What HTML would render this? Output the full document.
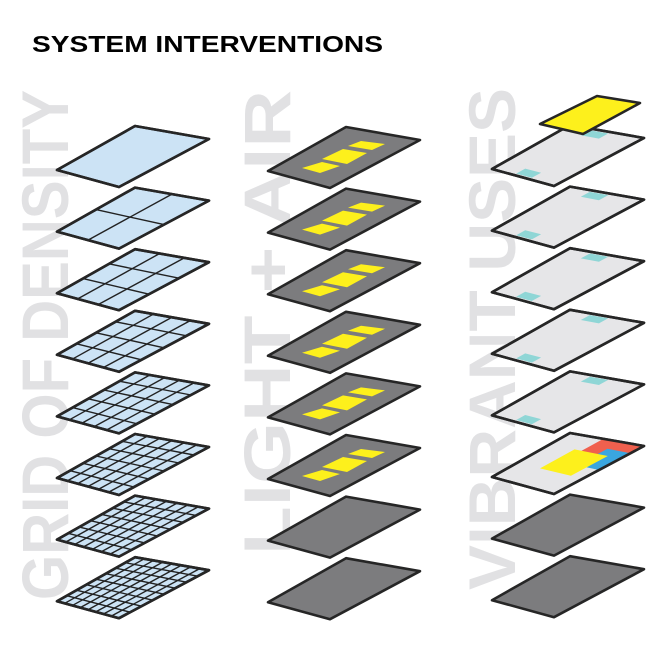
<!DOCTYPE html>
<html><head><meta charset="utf-8"><style>
html,body{margin:0;padding:0;background:#fff;}
svg{display:block;}
</style></head><body>
<svg id="s" width="670" height="670" viewBox="0 0 670 670" xmlns="http://www.w3.org/2000/svg">
<rect width="670" height="670" fill="#fff"/>
<text x="32" y="52" font-family="Liberation Sans, sans-serif" font-weight="bold" font-size="23" textLength="351" lengthAdjust="spacingAndGlyphs" fill="#000">SYSTEM INTERVENTIONS</text>
<g font-family="Liberation Sans, sans-serif" font-weight="bold" font-size="66" fill="#e1e1e3">
<text transform="translate(68,600) rotate(-90)" textLength="510" lengthAdjust="spacingAndGlyphs">GRID OF DENSITY</text>
<text transform="translate(290,555) rotate(-90)" textLength="465" lengthAdjust="spacingAndGlyphs">LIGHT + AIR</text>
<text transform="translate(515,590) rotate(-90)" textLength="502" lengthAdjust="spacingAndGlyphs">VIBRANT USES</text>
</g>
<g id="g"></g>
</svg>
<script>
var g=document.getElementById('g');var NS='http://www.w3.org/2000/svg';
var base={L:[57,170],T:[135,126],R:[209,139],B:[119,187]};
function P(dx,dy,s,t){
 var L=base.L,T=base.T,R=base.R,B=base.B;
 var x=(1-s)*(1-t)*L[0]+s*(1-t)*T[0]+s*t*R[0]+(1-s)*t*B[0];
 var y=(1-s)*(1-t)*L[1]+s*(1-t)*T[1]+s*t*R[1]+(1-s)*t*B[1];
 return [x+dx,y+dy];}
function poly(pts,fill,stroke,sw){var e=document.createElementNS(NS,'polygon');
 e.setAttribute('points',pts.map(function(p){return p[0].toFixed(1)+','+p[1].toFixed(1)}).join(' '));
 e.setAttribute('fill',fill);if(stroke){e.setAttribute('stroke',stroke);e.setAttribute('stroke-width',sw);e.setAttribute('stroke-linejoin','round');}else e.setAttribute('stroke','none');g.appendChild(e);}
function line(a,b,sw){var e=document.createElementNS(NS,'line');e.setAttribute('x1',a[0]);e.setAttribute('y1',a[1]);e.setAttribute('x2',b[0]);e.setAttribute('y2',b[1]);e.setAttribute('stroke','#222');e.setAttribute('stroke-width',sw);g.appendChild(e);}
function rect(dx,dy,s0,s1,t0,t1,fill){poly([P(dx,dy,s0,t0),P(dx,dy,s1,t0),P(dx,dy,s1,t1),P(dx,dy,s0,t1)],fill);}
function plate(dx,dy,fill){poly([P(dx,dy,0,0),P(dx,dy,1,0),P(dx,dy,1,1),P(dx,dy,0,1)],fill,'#262626',2.6);}
function outline(dx,dy){poly([P(dx,dy,0,0),P(dx,dy,1,0),P(dx,dy,1,1),P(dx,dy,0,1)],'none','#262626',2.6);}
function abs(dx,dy,pts,fill){poly(pts.map(function(p){return [p[0]+dx,p[1]+dy];}),fill);}
var sp=61.6;
for(var i=0;i<8;i++){var dy=i*sp;plate(0,dy,'#cce3f5');var n=i+1;
 for(var k=1;k<n;k++){var f=k/n;line(P(0,dy,f,0),P(0,dy,f,1),1.4);line(P(0,dy,0,f),P(0,dy,1,f),1.4);}
 outline(0,dy);}
var Y='#fdf01c';
for(var i=0;i<8;i++){var dx=211,dy=i*sp+1;plate(dx,dy,'#7c7c7e');
 if(i<6){var oy=dy-1;
  abs(0,oy,[[302,168],[322,162],[340,166],[320,173]],Y);
  abs(0,oy,[[322,159],[343,149],[367,153],[347,164]],Y);
  abs(0,oy,[[348,146],[361,141],[385,144],[372,150]],Y);}}
for(var i=0;i<8;i++){var dx=435,dy=i*sp-1;
 if(i<5){plate(dx,dy,'#e6e6e8');rect(dx,dy,0.86,0.97,0.3,0.55,'#8fd6d6');rect(dx,dy,0.03,0.14,0.35,0.6,'#8fd6d6');outline(dx,dy);}
 else if(i==5){plate(dx,dy,'#e6e6e8');rect(dx,dy,0.65,1,0.45,1,'#f0604e');rect(dx,dy,0.5,0.85,0.68,1,'#3aa6e0');rect(dx,dy,0.32,0.74,0.35,0.82,Y);outline(dx,dy);}
 else plate(dx,dy,'#7c7c7e');}
poly([[540,124],[597,96],[640,103],[583,134]],Y,'#262626',2.6);
</script>
</body></html>
